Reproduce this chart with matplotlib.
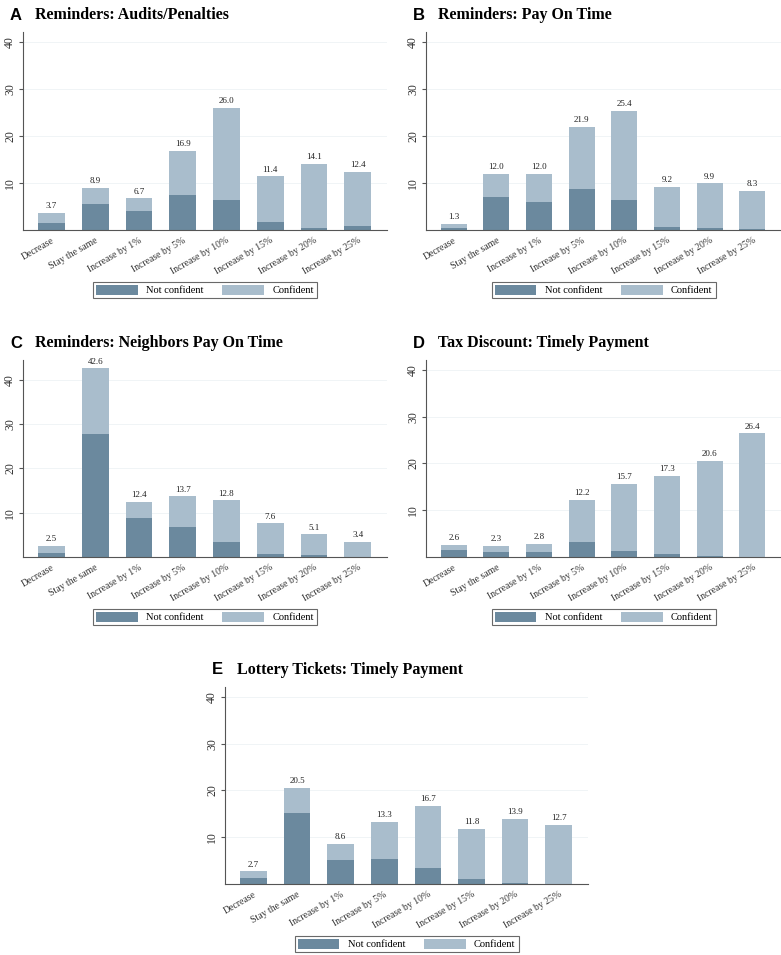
import matplotlib.pyplot as plt
from matplotlib.patches import Patch

categories = ["Decrease", "Stay the same", "Increase by 1%", "Increase by 5%",
              "Increase by 10%", "Increase by 15%", "Increase by 20%", "Increase by 25%"]

# totals shown above bars
total_a = [3.7, 8.9, 6.7, 16.9, 26.0, 11.4, 14.1, 12.4]
total_b = [1.3, 12.0, 12.0, 21.9, 25.4, 9.2, 9.9, 8.3]
total_c = [2.5, 42.6, 12.4, 13.7, 12.8, 7.6, 5.1, 3.4]
total_d = [2.6, 2.3, 2.8, 12.2, 15.7, 17.3, 20.6, 26.4]
total_e = [2.7, 20.5, 8.6, 13.3, 16.7, 11.8, 13.9, 12.7]

# not confident share
notconf_a = [1.5, 5.5, 4.1, 7.5, 6.3, 1.7, 0.5, 0.8]
notconf_b = [0.4, 7.0, 6.0, 8.7, 6.3, 0.7, 0.4, 0.2]
notconf_c = [1.0, 27.7, 8.9, 6.7, 3.4, 0.7, 0.4, 0.1]
notconf_d = [1.4, 1.1, 1.0, 3.2, 1.3, 0.7, 0.3, 0.1]
notconf_e = [1.3, 15.2, 5.2, 5.4, 3.5, 1.0, 0.3, 0.1]

letters = ["A", "B", "C", "D", "E"]
titles = ["Reminders: Audits/Penalties", "Reminders: Pay On Time",
          "Reminders: Neighbors Pay On Time", "Tax Discount: Timely Payment",
          "Lottery Tickets: Timely Payment"]

dark = "#6b899e"
light = "#a9bdcc"
W, H = 781, 955

# axes boxes in pixels: left, top, right, bottom
boxes = [(23, 32, 387, 230), (426, 32, 781, 230),
         (23, 360, 387, 557), (426, 360, 781, 557),
         (225, 687, 588, 884)]
ytops = [42.1, 42.1, 44.5, 42.1, 42.1]

fig = plt.figure(figsize=(W / 100, H / 100), dpi=100)
fig.patch.set_facecolor("white")

panels = list(zip(letters, titles, [total_a, total_b, total_c, total_d, total_e],
                  [notconf_a, notconf_b, notconf_c, notconf_d, notconf_e], boxes, ytops))

for letter, title, total, notconf, (l, t, r, b), ytop in panels:
    ax = fig.add_axes([l / W, 1 - b / H, (r - l) / W, (b - t) / H])
    x = list(range(len(categories)))
    conf = [tt - nc for tt, nc in zip(total, notconf)]
    ax.bar(x, notconf, width=0.61, color=dark, zorder=2)
    ax.bar(x, conf, bottom=notconf, width=0.61, color=light, zorder=2)
    for xi, tt in zip(x, total):
        ax.text(xi, tt + 0.6, f"{tt:.1f}", ha="center", va="bottom",
                fontsize=6.5, family="Liberation Serif", color="#222222")
    ax.set_xlim(-0.65, 7.67)
    ax.set_ylim(0, ytop)
    ax.set_yticks([10, 20, 30, 40])
    ax.set_yticklabels(["10", "20", "30", "40"], rotation=90, va="center",
                       family="Liberation Serif", fontsize=8.5, color="#333333")
    ax.set_xticks(x)
    ax.set_xticklabels(categories, rotation=30, ha="right", rotation_mode="anchor",
                       family="Liberation Serif", fontsize=7, color="#333333")
    ax.tick_params(axis="x", length=0, pad=4)
    ax.tick_params(axis="y", length=3, color="#555555", pad=2)
    ax.grid(axis="y", color="#eef2f5", linewidth=0.6, zorder=0)
    for s in ["top", "right"]:
        ax.spines[s].set_visible(False)
    for s in ["left", "bottom"]:
        ax.spines[s].set_color("#555555")
        ax.spines[s].set_linewidth(0.8)

    fig.text((l - 13) / W, 1 - (t - 17) / H, letter, fontsize=12, fontweight="bold",
             family="Liberation Sans", va="center", ha="left")
    fig.text((l + 12) / W, 1 - (t - 17) / H, title, fontsize=11.5, fontweight="bold",
             family="Liberation Serif", va="center", ha="left")

    handles = [Patch(facecolor=dark, label="Not confident"),
               Patch(facecolor=light, label="Confident")]
    leg = fig.legend(handles=handles, loc="center",
                     bbox_to_anchor=((l + r) / 2 / W, 1 - (b + 60) / H), ncol=2,
                     frameon=True, fancybox=False, edgecolor="#444444",
                     prop={"family": "Liberation Serif", "size": 7.5},
                     handlelength=4.0, handleheight=1.1, columnspacing=1.8,
                     borderpad=0.3, handletextpad=0.8)
    leg.get_frame().set_linewidth(0.8)

plt.savefig("out.png", dpi=100)
